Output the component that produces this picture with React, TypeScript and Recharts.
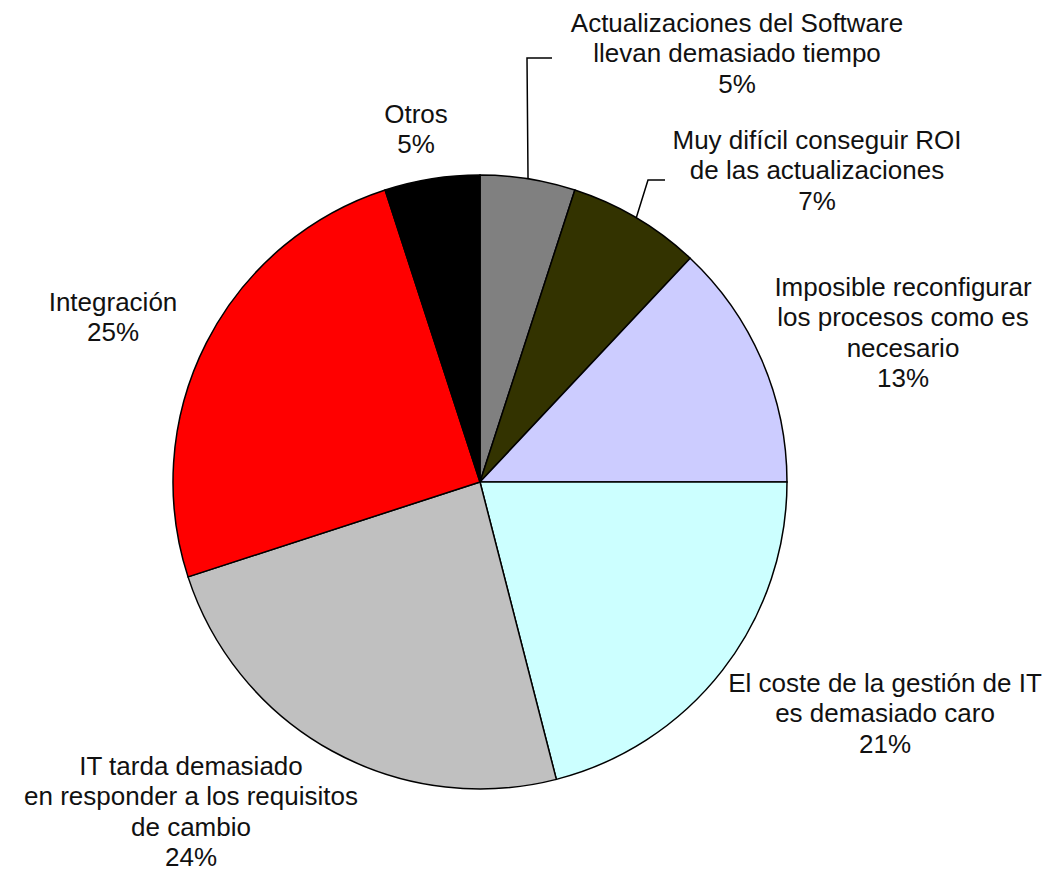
import React from "react";
import { PieChart, Pie, Cell } from "recharts";

const categories = [
  "Actualizaciones del Software\nllevan demasiado tiempo",
  "Muy difícil conseguir ROI\nde las actualizaciones",
  "Imposible reconfigurar\nlos procesos como es\nnecesario",
  "El coste de la gestión de IT\nes demasiado caro",
  "IT tarda demasiado\nen responder a los requisitos\nde cambio",
  "Integración",
  "Otros",
];
const values = [5, 7, 13, 21, 24, 25, 5];
const colors = ["#808080", "#333300", "#CCCCFF", "#CCFFFF", "#C0C0C0", "#FF0000", "#000000"];

// layout: label block anchor (center x, first baseline) relative to pie center
const labelOffsets: [number, number][] = [
  [257, -450],
  [337, -333],
  [423, -186],
  [405, 210],
  [-289, 293],
  [-367, -171],
  [-64, -359],
];
// leader lines: elbow and end relative to pie center (null = no line)
const leaders: ([number, number, number, number] | null)[] = [
  [47, -424, 72, -424],
  [168, -302, 185, -302],
  null,
  null,
  null,
  null,
  null,
];

const data = categories.map((name, i) => ({ name, value: values[i] }));

const LINE_H = 30.3;
const RAD = Math.PI / 180;

const renderLabel = (props: any) => {
  const { cx, cy, midAngle, outerRadius, index, value } = props;
  const [dx, dy] = labelOffsets[index];
  const lines = categories[index].split("\n").concat([`${value}%`]);
  const lead = leaders[index];
  let leaderEl = null;
  if (lead) {
    const sx = cx + outerRadius * Math.cos(-midAngle * RAD);
    const sy = cy + outerRadius * Math.sin(-midAngle * RAD);
    leaderEl = (
      <polyline
        points={`${sx},${sy} ${cx + lead[0]},${cy + lead[1]} ${cx + lead[2]},${cy + lead[3]}`}
        fill="none"
        stroke="#000"
        strokeWidth={1.5}
      />
    );
  }
  return (
    <g key={`lbl-${index}`}>
      {leaderEl}
      <text
        x={cx + dx}
        y={cy + dy}
        textAnchor="middle"
        fontFamily="'Liberation Sans', Arial, sans-serif"
        fontSize={26}
        fill="#111"
      >
        {lines.map((l, i) => (
          <tspan key={i} x={cx + dx} y={cy + dy + i * LINE_H}>
            {l}
          </tspan>
        ))}
      </text>
    </g>
  );
};

export default function App() {
  return (
    <div style={{ position: "absolute", left: 0, top: 0, width: 1059, height: 872, background: "#fff" }}>
      <PieChart width={1059} height={872} margin={{ top: 0, right: 0, bottom: 0, left: 0 }}>
        <Pie
          data={data}
          dataKey="value"
          nameKey="name"
          cx={480}
          cy={482}
          outerRadius={307}
          startAngle={90}
          endAngle={-270}
          stroke="#000"
          strokeWidth={1.5}
          label={renderLabel}
          labelLine={false}
          isAnimationActive={false}
        >
          {data.map((d, i) => (
            <Cell key={d.name} fill={colors[i]} />
          ))}
        </Pie>
      </PieChart>
    </div>
  );
}
